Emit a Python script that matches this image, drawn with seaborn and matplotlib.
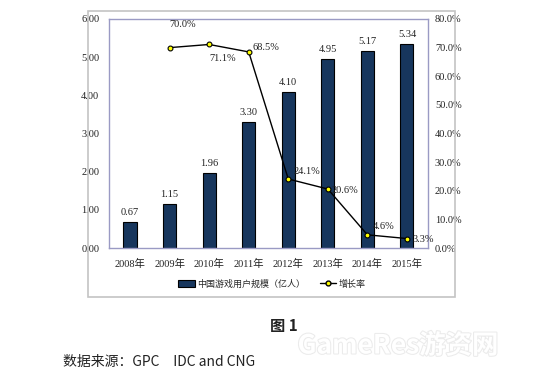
import numpy as np
import pandas as pd
import matplotlib
matplotlib.use("Agg")
import matplotlib.pyplot as plt
import seaborn as sns
from matplotlib.patches import Rectangle, Patch
from matplotlib.lines import Line2D
import matplotlib.patheffects as pe

years = ["2008年", "2009年", "2010年", "2011年", "2012年", "2013年", "2014年", "2015年"]
users = [0.67, 1.15, 1.96, 3.30, 4.10, 4.95, 5.17, 5.34]
growth = [np.nan, 70.0, 71.1, 68.5, 24.1, 20.6, 4.6, 3.3]
left_ticks = [0, 1, 2, 3, 4, 5, 6]
right_ticks = [0, 10, 20, 30, 40, 50, 60, 70, 80]

sns.set_theme(style="white")
SERIF = ["Liberation Serif", "Noto Sans CJK SC", "DejaVu Sans"]
CJK = ["Noto Sans CJK SC", "DejaVu Sans"]
plt.rcParams["font.family"] = SERIF

df = pd.DataFrame({"year": years, "users": users, "growth": growth})

fig = plt.figure(figsize=(5.58, 3.79), dpi=100)
W, H = 558, 379
fig.patch.set_facecolor("white")

# outer chart frame
fig.patches.append(Rectangle((88 / W, 1 - 297 / H), (455 - 88) / W, (297 - 11) / H,
                             transform=fig.transFigure, fill=False,
                             edgecolor="#c4c4c4", linewidth=1.2, zorder=0))

ax = fig.add_axes([109 / W, 1 - 248 / H, (428 - 109) / W, (248 - 19) / H])
navy = "#17365d"
sns.barplot(data=df, x="year", y="users", ax=ax, color=navy, width=0.33,
            edgecolor="black", linewidth=0.8, saturation=1)
ax.set_ylim(0, 6)
ax.set_yticks(left_ticks)
ax.set_yticklabels([f"{v:.2f}" for v in left_ticks])
ax.set_xlabel("")
ax.set_ylabel("")
ax.tick_params(axis="both", length=0, labelsize=7.5, colors="#222222")
ax.tick_params(axis="x", pad=8)
ax.tick_params(axis="y", pad=7)
for s in ax.spines.values():
    s.set_color("#9a9ac4")
    s.set_linewidth(1.0)
for i, v in enumerate(users):
    ax.annotate(f"{v:.2f}", (i, v), xytext=(0, 5), textcoords="offset pixels",
                ha="center", va="bottom", fontsize=7.5, color="#222222")

ax2 = ax.twinx()
xs = np.arange(len(years))
sns.lineplot(x=xs, y=growth, ax=ax2, color="black", linewidth=1.0,
             marker="o", markersize=3.5, markerfacecolor="#ffff00",
             markeredgecolor="black", markeredgewidth=0.8)
ax2.set_ylim(0, 80)
ax2.set_yticks(right_ticks)
ax2.set_yticklabels([f"{v:.1f}%" for v in right_ticks])
ax2.tick_params(axis="y", length=0, labelsize=7.5, colors="#222222", pad=5)
for s in ax2.spines.values():
    s.set_visible(False)
ax2.set_xlim(ax.get_xlim())

offsets = {1: (13, 19, "center", "bottom"), 2: (14, -10, "center", "top"),
           3: (4, 4, "left", "center"), 4: (5, 8, "left", "center"),
           5: (4, -1, "left", "center"), 6: (5, 8, "left", "center"),
           7: (6, -1, "left", "center")}
for i, g in enumerate(growth):
    if np.isnan(g):
        continue
    dx, dy, ha, va = offsets[i]
    ax2.annotate(f"{g:.1f}%", (i, g), xytext=(dx, dy), textcoords="offset pixels",
                 ha=ha, va=va, fontsize=7.5, color="#222222")

handles = [Patch(facecolor=navy, edgecolor="black", linewidth=0.8),
           Line2D([0], [0], color="black", linewidth=1.0, marker="o", markersize=3.5,
                  markerfacecolor="#ffff00", markeredgecolor="black")]
leg = fig.legend(handles, ["中国游戏用户规模（亿人）", "增长率"], ncol=2,
                 loc="center", bbox_to_anchor=(272 / W, 1 - 284 / H), frameon=False,
                 prop={"family": CJK, "size": 6.5}, handlelength=1.8,
                 columnspacing=1.6, handletextpad=0.3)

fig.text(284 / W, 1 - 326 / H, "图 1", ha="center", va="center",
         fontsize=11, fontweight="bold", family=CJK, color="#222222")
fig.text(63 / W, 1 - 362 / H, "数据来源：GPC　IDC and CNG", ha="left", va="center",
         fontsize=10, family=CJK, color="#222222")
fig.text(398 / W, 1 - 346 / H, "GameRes游资网", ha="center", va="center",
         fontsize=19, fontweight="bold", family=CJK, color="#ffffff",
         path_effects=[pe.withStroke(linewidth=1.5, foreground="#ebebeb")])

fig.savefig("out.png", dpi=100, facecolor="white")
